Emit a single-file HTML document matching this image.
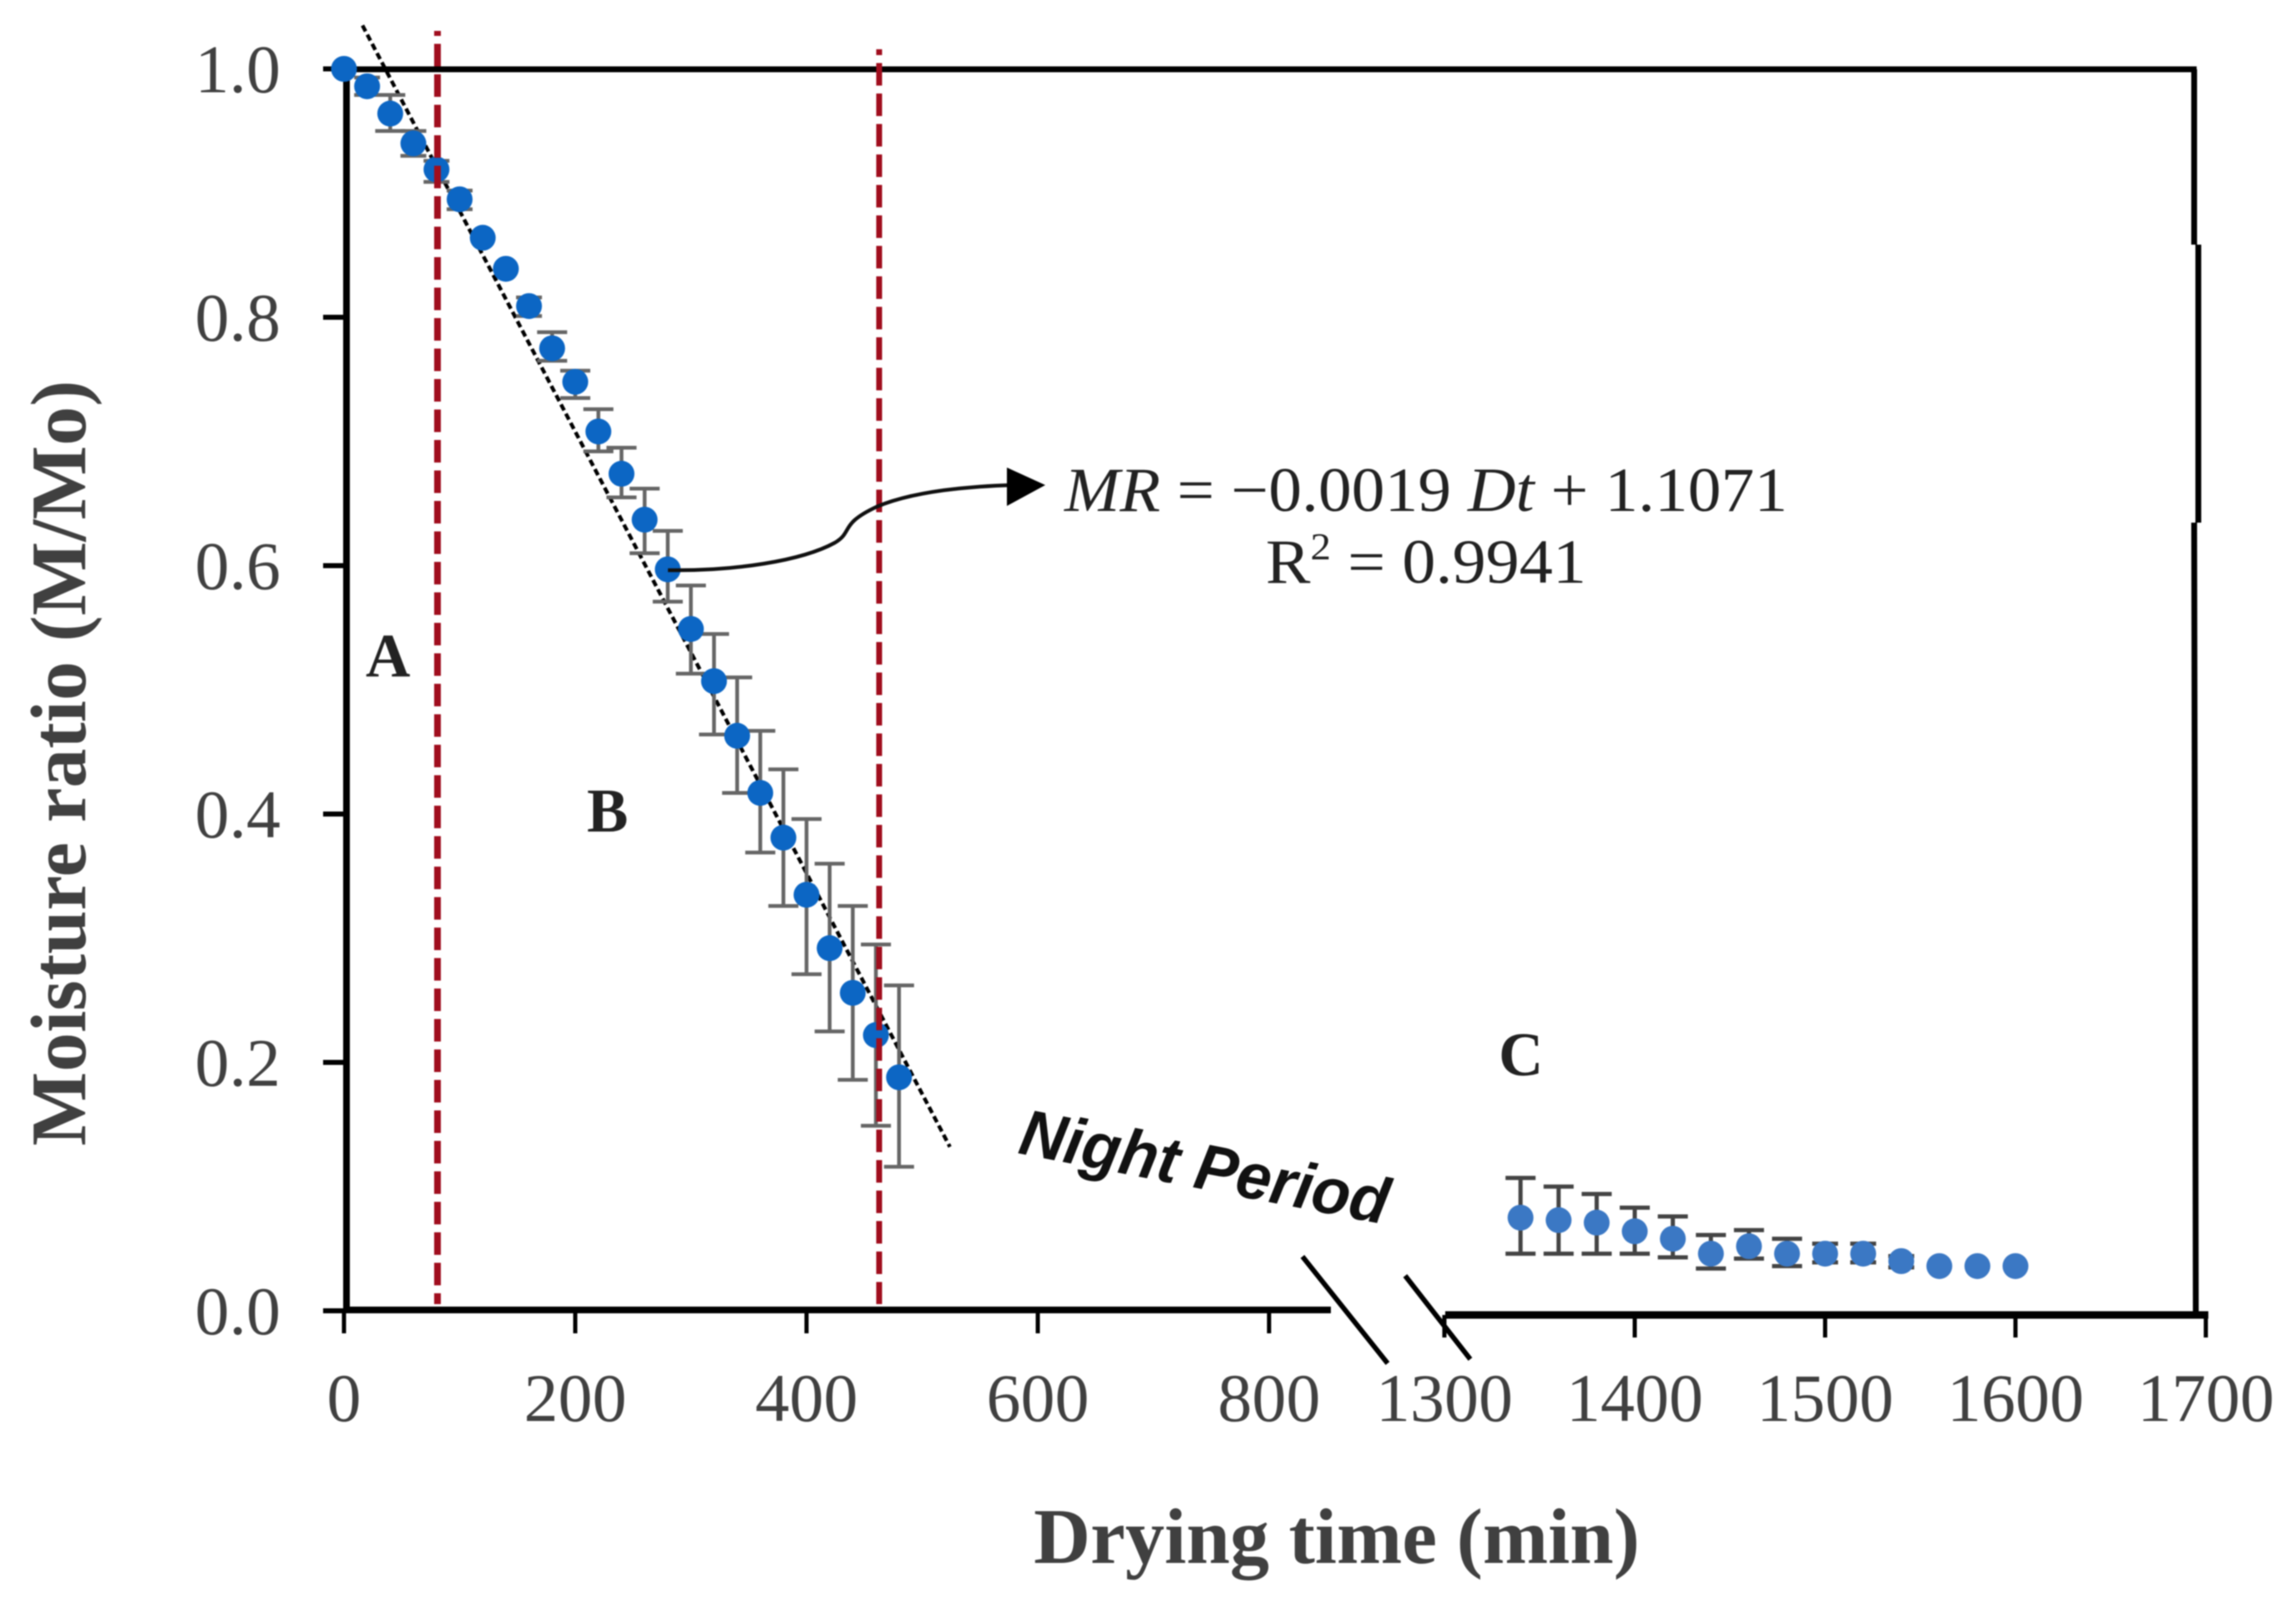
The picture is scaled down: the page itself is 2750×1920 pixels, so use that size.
<!DOCTYPE html>
<html>
<head>
<meta charset="utf-8">
<title>Moisture ratio vs drying time</title>
<style>
html,body{margin:0;padding:0;background:#fff;width:2750px;height:1920px;overflow:hidden}
svg{display:block;filter:blur(0.9px)}
text{font-family:"Liberation Serif",serif}
</style>
</head>
<body>
<svg id="chart" xmlns="http://www.w3.org/2000/svg" width="2750" height="1920" viewBox="0 0 2750 1920">
  <rect x="0" y="0" width="2750" height="1920" fill="#ffffff"/>
  <g id="axes" fill="none" stroke="#000">
    <line x1="415" y1="80" x2="415" y2="1570" stroke-width="8"/>
    <line x1="415" y1="83" x2="2631" y2="83" stroke-width="7"/>
    <path d="M2628,83V293M2633,293V626M2628,626L2630,1575" stroke-width="7"/>
    <line x1="412" y1="1569" x2="1594" y2="1569" stroke-width="8"/>
    <line x1="1731" y1="1575" x2="2645" y2="1575" stroke-width="9"/>
    <line x1="1560" y1="1505" x2="1662" y2="1633" stroke-width="6"/>
    <line x1="1683" y1="1528" x2="1761" y2="1628" stroke-width="6"/>
  </g>
  <g id="ticks"></g>
  <g id="trend"></g>
  <g id="errors"></g>
  <g id="points"></g>
  <line x1="524" y1="37" x2="524" y2="1562" stroke="#a00e1e" stroke-width="8" stroke-dasharray="27 9.5" stroke-dashoffset="21"/>
  <line x1="1053" y1="59" x2="1053" y2="1562" stroke="#a00e1e" stroke-width="7" stroke-dasharray="27 9.5" stroke-dashoffset="20"/>
  <path d="M800,683 C880,684 960,672 1000,650 C1022,637 1005,628 1050,607 C1090,590 1150,583 1212,581" fill="none" stroke="#111" stroke-width="4.5"/>
  <polygon points="1206,560 1252,581 1206,606" fill="#000"/>
  <text x="1275" y="612" font-size="75" fill="#222" textLength="866" lengthAdjust="spacingAndGlyphs"><tspan font-style="italic">MR</tspan> = −0.0019 <tspan font-style="italic">Dt</tspan> + 1.1071</text>
  <text x="1516" y="698" font-size="75" fill="#222" textLength="384" lengthAdjust="spacingAndGlyphs">R<tspan font-size="46" dy="-28">2</tspan><tspan dy="28"> = 0.9941</tspan></text>
  <text x="438" y="810" font-size="74" font-weight="bold" fill="#222">A</text>
  <text x="703" y="996" font-size="74" font-weight="bold" fill="#222">B</text>
  <text x="1795" y="1288" font-size="74" font-weight="bold" fill="#222">C</text>
  <text transform="translate(1218,1381) rotate(11)" font-size="78" font-weight="bold" font-style="italic" style='font-family:"Liberation Sans",sans-serif' fill="#111" textLength="448" lengthAdjust="spacingAndGlyphs">Night Period</text>
  <text transform="translate(102,914) rotate(-90)" text-anchor="middle" font-size="94" font-weight="bold" fill="#404040">Moisture ratio (M/Mo)</text>
  <text x="1601" y="1872" text-anchor="middle" font-size="94" font-weight="bold" fill="#404040">Drying time (min)</text>
</svg>
<script>
// Chart data (time in min, moisture ratio M/Mo)
const yTickValues = [0.0, 0.2, 0.4, 0.6, 0.8, 1.0];
const xTickValuesDay = [0, 200, 400, 600, 800];
const xTickValuesLate = [1300, 1400, 1500, 1600, 1700];

const dayTimes = [0,20,40,60,80,100,120,140,160,180,200,220,240,260,280,300,320,340,360,380,400,420,440,460,480];
const dayMeans = [1.00,0.986,0.964,0.940,0.919,0.895,0.864,0.839,0.809,0.775,0.748,0.708,0.674,0.637,0.597,0.549,0.507,0.463,0.417,0.381,0.335,0.292,0.256,0.222,0.188];
const dayUpper = [1.00,0.993,0.979,0.950,0.926,0.902,0.864,0.839,0.816,0.788,0.757,0.726,0.695,0.662,0.628,0.584,0.545,0.510,0.467,0.436,0.396,0.360,0.326,0.295,0.262];
const dayLower = [1.00,0.979,0.950,0.930,0.909,0.887,0.864,0.839,0.801,0.765,0.735,0.692,0.655,0.610,0.571,0.513,0.464,0.417,0.369,0.326,0.271,0.225,0.186,0.149,0.116];

const lateTimes = [1340,1360,1380,1400,1420,1440,1460,1480,1500,1520,1540,1560,1580,1600];
const lateMeans = [0.075,0.073,0.071,0.064,0.058,0.046,0.052,0.046,0.046,0.046,0.040,0.036,0.036,0.036];
const lateUpper = [0.107,0.100,0.094,0.083,0.076,0.061,0.065,0.058,0.054,0.054,0.044,0.036,0.036,0.036];
const lateLower = [0.046,0.046,0.046,0.046,0.043,0.034,0.042,0.036,0.039,0.039,0.035,0.036,0.036,0.036];

const trendTimes = [16, 524];
const trendValues = [1.035, 0.132];

const svgNS = 'http://www.w3.org/2000/svg';
function yScale(v){ return 1570 - 1487.5 * v; }
function xScale(t){ return t < 1000 ? 412 + 1.385 * t : 1730 + 2.28 * (t - 1300); }
function mk(parent, tag, attrs, txt){
  const el = document.createElementNS(svgNS, tag);
  for (const k in attrs) el.setAttribute(k, attrs[k]);
  if (txt !== undefined) el.textContent = txt;
  parent.appendChild(el);
  return el;
}
const ticksG = document.getElementById('ticks');
const trendG = document.getElementById('trend');
const errorsG = document.getElementById('errors');
const pointsG = document.getElementById('points');

yTickValues.forEach(function(v){
  const y = yScale(v);
  const tick = mk(ticksG, 'line', {x1:387, y1:y, x2:415, y2:y, stroke:'#000', 'stroke-width':6});
  
  
  const lab = mk(ticksG, 'text', {x:336, y:y + 28, 'text-anchor':'end', 'font-size':82, fill:'#404040'}, v.toFixed(1));
  
  
});
xTickValuesDay.concat(xTickValuesLate).forEach(function(t){
  const x = xScale(t);
  const y0 = t < 1000 ? 1569 : 1575;
  const y1 = t < 1000 ? 1597 : 1602;
  const tick = mk(ticksG, 'line', {x1:x, y1:y0, x2:x, y2:y1, stroke:'#000', 'stroke-width':5});
  
  
  const lab = mk(ticksG, 'text', {x:x, y:1702, 'text-anchor':'middle', 'font-size':82, fill:'#404040'}, String(t));
  
  
});

const trendLine = mk(trendG, 'line', {
  x1:xScale(trendTimes[0]), y1:yScale(trendValues[0]),
  x2:xScale(trendTimes[1]), y2:yScale(trendValues[1]),
  stroke:'#000', 'stroke-width':4.5, 'stroke-dasharray':'8 4.5'
});



function drawErrors(times, upper, lower, color, sw){
  times.forEach(function(t, i){
    if (upper[i] === lower[i]) return;
    const x = xScale(t), yu = yScale(upper[i]), yl = yScale(lower[i]);
    const half = (yl - yu) < 30 ? 15.5 : 18;
    const p = mk(errorsG, 'path', {
      d:'M' + (x - half) + ',' + yu + 'H' + (x + half) + 'M' + x + ',' + yu + 'V' + yl + 'M' + (x - half) + ',' + yl + 'H' + (x + half),
      fill:'none', stroke:color, 'stroke-width':sw
    });
    
    
  });
}
function drawPoints(times, means, color, r){
  times.forEach(function(t, i){
    const c = mk(pointsG, 'circle', {cx:xScale(t), cy:yScale(means[i]), r:r, fill:color});
    
    
  });
}
drawErrors(dayTimes, dayUpper, dayLower, '#666666', 4.5);
drawErrors(lateTimes, lateUpper, lateLower, '#444444', 5);
drawPoints(dayTimes, dayMeans, '#0c66c4', 15.5);
drawPoints(lateTimes, lateMeans, '#3b78c4', 15.5);
</script>
</body>
</html>
